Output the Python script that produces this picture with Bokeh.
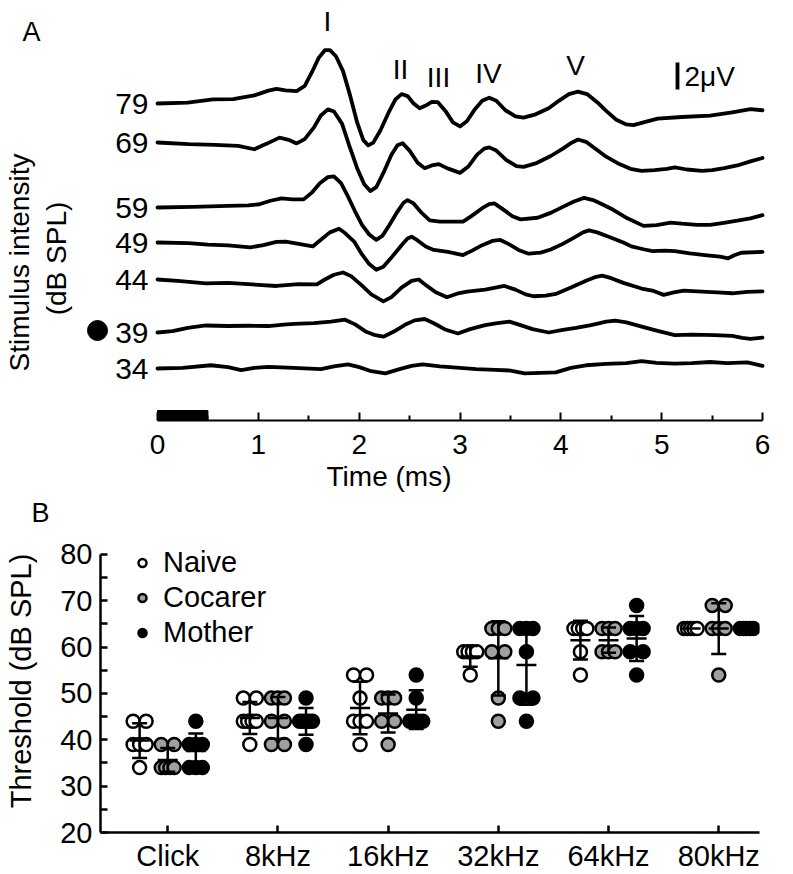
import numpy as np
from bokeh.plotting import figure
from bokeh.models import Range1d, FixedTicker, Legend, LegendItem, Title
from bokeh.embed import file_html
from bokeh.resources import INLINE
from bokeh.core.properties import value

FONT = "Liberation Sans"

# ======================= DATA: panel A (ABR traces) =======================
intensities = [79, 69, 59, 49, 44, 39, 34]          # dB SPL
threshold_intensity = 39
time_ticks = [0, 1, 2, 3, 4, 5, 6]                   # ms
time_minor_ticks = [0.5, 1.5, 2.5, 3.5, 4.5, 5.5]
stimulus_ms = [0.0, 0.5]                              # stimulus duration bar
scale_bar_uv = 2.0
wave_names = ["I", "II", "III", "IV", "V"]

# (time ms, amplitude uV)
trace_79 = [(0.00, 0.00), (0.30, 0.07), (0.55, 0.30), (0.75, 0.33), (0.96, 0.60), (1.10, 0.95),
            (1.18, 1.08), (1.27, 0.98), (1.38, 0.92), (1.46, 1.30), (1.53, 2.30), (1.60, 3.40),
            (1.66, 3.95), (1.71, 3.95), (1.77, 3.50), (1.84, 2.40), (1.91, 0.60), (1.98, -1.40),
            (2.04, -2.70), (2.09, -3.10), (2.14, -2.90), (2.21, -2.00), (2.29, -0.70), (2.36, 0.30),
            (2.42, 0.70), (2.48, 0.55), (2.54, 0.00), (2.60, -0.35), (2.66, -0.15), (2.72, 0.12),
            (2.78, 0.10), (2.86, -0.60), (2.93, -1.40), (3.00, -1.70), (3.07, -1.30), (3.15, -0.40),
            (3.22, 0.20), (3.29, 0.43), (3.36, 0.20), (3.45, -0.50), (3.55, -0.95), (3.63, -1.05),
            (3.75, -0.80), (3.88, -0.35), (3.98, 0.20), (4.08, 0.70), (4.17, 0.88), (4.26, 0.70),
            (4.36, 0.10), (4.45, -0.55), (4.55, -1.20), (4.65, -1.55), (4.72, -1.60), (4.82, -1.40),
            (4.96, -1.12), (5.20, -1.00), (5.48, -0.90), (5.70, -0.65), (5.88, -0.42), (6.00, -0.50)]
trace_69 = [(0.00, 0.00), (0.31, -0.12), (0.57, -0.17), (0.80, -0.25), (0.96, -0.50), (1.08, -0.10),
            (1.21, 0.36), (1.30, 0.20), (1.38, -0.07), (1.46, 0.25), (1.55, 1.10), (1.62, 2.00),
            (1.69, 2.45), (1.75, 2.30), (1.83, 1.40), (1.90, -0.20), (1.98, -1.90), (2.05, -3.10),
            (2.11, -3.60), (2.17, -3.30), (2.25, -2.10), (2.32, -0.90), (2.38, -0.20), (2.43, -0.05),
            (2.50, -0.60), (2.58, -1.50), (2.65, -1.90), (2.72, -1.70), (2.79, -1.60), (2.87, -1.90),
            (3.00, -2.25), (3.08, -1.80), (3.17, -0.90), (3.24, -0.45), (3.29, -0.36), (3.36, -0.60),
            (3.46, -1.30), (3.56, -1.75), (3.63, -1.80), (3.75, -1.55), (3.90, -1.00), (4.02, -0.45),
            (4.10, -0.05), (4.17, 0.22), (4.25, 0.05), (4.35, -0.50), (4.45, -1.05), (4.58, -1.60),
            (4.69, -1.95), (4.80, -2.10), (4.93, -2.05), (5.05, -1.95), (5.13, -1.85), (5.25, -2.00),
            (5.40, -2.10), (5.50, -2.05), (5.62, -1.90), (5.75, -1.70), (5.88, -1.40), (6.00, -1.15)]
trace_59 = [(0.00, 0.00), (0.35, 0.05), (0.70, 0.12), (0.90, 0.15), (1.01, 0.24), (1.12, 0.50),
            (1.23, 0.67), (1.34, 0.60), (1.45, 0.60), (1.53, 1.10), (1.61, 1.80), (1.69, 2.25),
            (1.75, 2.30), (1.82, 1.80), (1.89, 0.80), (1.96, -0.30), (2.03, -1.30), (2.10, -2.00),
            (2.17, -2.40), (2.23, -2.10), (2.30, -1.30), (2.38, -0.30), (2.44, 0.35), (2.48, 0.55),
            (2.54, 0.30), (2.62, -0.40), (2.70, -0.95), (2.80, -1.05), (2.92, -1.05), (3.03, -1.05),
            (3.12, -0.60), (3.22, -0.05), (3.29, 0.25), (3.34, 0.30), (3.42, -0.10), (3.52, -0.65),
            (3.60, -0.88), (3.77, -0.76), (3.90, -0.40), (4.02, 0.05), (4.13, 0.45), (4.23, 0.71),
            (4.32, 0.55), (4.42, 0.20), (4.52, -0.17), (4.66, -0.80), (4.82, -1.36), (4.95, -1.30),
            (5.09, -1.12), (5.20, -1.20), (5.35, -1.28), (5.48, -1.29), (5.60, -1.15), (5.75, -0.98),
            (5.88, -0.80), (6.00, -0.57)]
trace_49 = [(0.00, 0.00), (0.31, -0.05), (0.50, -0.15), (0.70, -0.22), (0.92, -0.36), (1.05, -0.20),
            (1.18, 0.05), (1.27, 0.07), (1.40, -0.10), (1.54, -0.29), (1.62, 0.20), (1.71, 0.75),
            (1.80, 1.02), (1.86, 0.70), (1.95, 0.07), (2.03, -0.90), (2.10, -1.60), (2.17, -2.02),
            (2.24, -1.80), (2.32, -1.12), (2.42, -0.20), (2.48, 0.30), (2.52, 0.43), (2.58, 0.15),
            (2.66, -0.30), (2.74, -0.55), (2.88, -0.70), (3.03, -0.93), (3.12, -0.60), (3.22, -0.20),
            (3.32, 0.12), (3.40, 0.19), (3.48, -0.10), (3.58, -0.55), (3.68, -0.83), (3.80, -0.75),
            (3.90, -0.52), (4.02, -0.10), (4.14, 0.40), (4.22, 0.75), (4.28, 0.90), (4.36, 0.75),
            (4.50, 0.35), (4.62, 0.00), (4.70, -0.29), (4.82, -0.50), (4.91, -0.64), (5.03, -0.60),
            (5.13, -0.64), (5.28, -0.80), (5.45, -0.95), (5.58, -1.05), (5.66, -1.17), (5.72, -0.95),
            (5.79, -0.76), (6.00, -0.69)]
trace_44 = [(0.00, 0.00), (0.20, -0.10), (0.48, -0.29), (0.70, -0.25), (0.90, -0.35), (1.18, -0.48),
            (1.40, -0.35), (1.58, -0.36), (1.66, 0.00), (1.75, 0.35), (1.84, 0.52), (1.92, 0.25),
            (2.02, -0.40), (2.12, -1.10), (2.24, -1.62), (2.32, -1.30), (2.42, -0.60), (2.52, -0.10),
            (2.59, 0.00), (2.66, -0.40), (2.76, -0.95), (2.87, -1.31), (2.97, -1.05), (3.07, -0.90),
            (3.25, -0.75), (3.44, -0.48), (3.55, -0.75), (3.65, -1.10), (3.73, -1.24), (3.85, -1.20),
            (3.95, -1.07), (4.10, -0.60), (4.25, -0.10), (4.35, 0.20), (4.41, 0.29), (4.50, 0.10),
            (4.62, -0.25), (4.80, -0.67), (4.92, -0.85), (5.02, -1.14), (5.12, -0.95), (5.22, -0.83),
            (5.40, -0.90), (5.55, -0.95), (5.70, -1.02), (5.85, -0.92), (6.00, -0.88)]
trace_39 = [(0.00, 0.00), (0.15, 0.10), (0.30, 0.35), (0.48, 0.52), (0.70, 0.48), (0.90, 0.50),
            (1.10, 0.48), (1.25, 0.58), (1.36, 0.64), (1.55, 0.70), (1.72, 0.80), (1.86, 0.95),
            (1.96, 0.60), (2.07, 0.05), (2.16, -0.20), (2.24, -0.31), (2.34, 0.05), (2.45, 0.55),
            (2.55, 0.90), (2.65, 1.00), (2.75, 0.65), (2.86, 0.20), (2.98, -0.07), (3.10, 0.25),
            (3.25, 0.55), (3.37, 0.70), (3.49, 0.81), (3.60, 0.55), (3.72, 0.25), (3.88, 0.00),
            (4.02, 0.20), (4.15, 0.35), (4.30, 0.55), (4.45, 0.80), (4.54, 0.88), (4.65, 0.75),
            (4.82, 0.40), (4.97, 0.10), (5.13, -0.19), (5.30, -0.15), (5.53, -0.19), (5.70, -0.25),
            (5.80, -0.40), (5.88, -0.48), (6.00, -0.38)]
trace_34 = [(0.00, 0.00), (0.25, 0.05), (0.53, 0.24), (0.70, 0.10), (0.83, -0.12), (0.96, 0.05),
            (1.10, 0.12), (1.35, 0.05), (1.62, -0.05), (1.75, 0.15), (1.89, 0.31), (2.00, 0.10),
            (2.12, -0.20), (2.26, -0.36), (2.40, -0.05), (2.52, 0.20), (2.63, 0.31), (2.80, 0.15),
            (3.00, 0.05), (3.16, -0.05), (3.35, -0.10), (3.50, -0.15), (3.64, -0.36), (3.80, -0.32),
            (3.95, -0.29), (4.10, 0.05), (4.25, 0.24), (4.45, 0.35), (4.65, 0.40), (4.80, 0.55),
            (4.95, 0.42), (5.13, 0.36), (5.30, 0.40), (5.48, 0.48), (5.65, 0.40), (5.85, 0.45),
            (6.00, 0.19)]
traces = [trace_79, trace_69, trace_59, trace_49, trace_44, trace_39, trace_34]

# ======================= DATA: panel B (thresholds) =======================
categories = ["Click", "8kHz", "16kHz", "32kHz", "64kHz", "80kHz"]
group_names = ["Naive", "Cocarer", "Mother"]
naive = [[44, 44, 39, 39, 39, 34],
         [49, 49, 44, 44, 44, 44, 39],
         [54, 54, 49, 44, 44, 44, 39],
         [59, 59, 59, 59, 54],
         [64, 64, 64, 64, 59, 54],
         [64, 64, 64, 64, 64]]
cocarer = [[39, 39, 34, 34, 34, 34],
           [49, 49, 49, 44, 44, 39, 39],
           [49, 49, 49, 44, 44, 39],
           [64, 64, 64, 59, 59, 49, 44],
           [64, 64, 64, 59, 59, 59],
           [69, 69, 64, 64, 64, 54]]
mother = [[44, 39, 39, 39, 34, 34, 34],
          [49, 44, 44, 44, 44, 44, 39],
          [54, 49, 44, 44, 44, 44],
          [64, 64, 64, 59, 49, 49, 44],
          [69, 64, 64, 64, 59, 59, 54],
          [64, 64, 64, 64, 64]]
y_ticks_B = [20, 30, 40, 50, 60, 70, 80]
y_minor_B = [25, 35, 45, 55, 65, 75]

# ======================= LAYOUT / STYLE =======================
W = 777
A_H = 497
B_H = 377

# panel A mapping (page pixels -> data); page origin = figure origin
T0_PX, PX_PER_MS = 157.0, 605.0 / 6.0
BASE_PX, PX_PER_UV = 368.0, 13.5
def tA(px): return (px - T0_PX) / PX_PER_MS
def vA(py): return (BASE_PX - py) / PX_PER_UV
trace_baseline_px = [103, 142, 207, 242, 279, 332, 368]
offsets = [vA(p) for p in trace_baseline_px]

A_FRAME_BOTTOM = 420
pA = figure(width=W, height=A_H, output_backend="svg", toolbar_location=None,
            x_range=Range1d(tA(0), tA(W)),
            y_range=Range1d(vA(A_FRAME_BOTTOM), vA(0)),
            y_axis_type=None,
            min_border_left=0, min_border_right=0, min_border_top=0,
            min_border_bottom=A_H - A_FRAME_BOTTOM)
pA.outline_line_color = None
pA.grid.visible = False
pA.background_fill_color = "white"
pA.border_fill_color = "white"

ax = pA.xaxis[0]
ax.bounds = (time_ticks[0], time_ticks[-1])
ax.ticker = FixedTicker(ticks=time_ticks, minor_ticks=time_minor_ticks)
ax.axis_line_width = 2
ax.axis_line_color = "black"
ax.major_tick_in = 8
ax.major_tick_out = 0
ax.minor_tick_in = 5
ax.minor_tick_out = 0
ax.major_tick_line_width = 2
ax.minor_tick_line_width = 2
ax.major_label_text_font = FONT
ax.major_label_text_font_size = "28px"
ax.major_label_text_color = "black"
ax.major_label_standoff = 14

for tr, off in zip(traces, offsets):
    t = [p[0] for p in tr]
    v = [p[1] + off for p in tr]
    pA.line(t, v, line_width=3.8, line_color="black", line_join="round", line_cap="round")

# stimulus bar
bar_h = 10 / PX_PER_UV
pA.quad(left=[stimulus_ms[0]], right=[stimulus_ms[1]],
        bottom=[vA(A_FRAME_BOTTOM)], top=[vA(A_FRAME_BOTTOM) + bar_h],
        fill_color="black", line_color="black")

# intensity labels
pA.text(x=[tA(148)] * len(intensities), y=offsets, text=[str(i) for i in intensities],
        text_font=value(FONT), text_font_size=value("30px"), text_align="right",
        text_baseline="middle", text_color="black")
# threshold dot
thr_idx = intensities.index(threshold_intensity)
pA.scatter(x=[tA(97)], y=[offsets[thr_idx] + 2 / PX_PER_UV], size=20,
           fill_color="black", line_color="black")

# wave labels
wave_px = [(327, 21), (400, 69), (438, 77), (488, 73), (575, 65)]
pA.text(x=[tA(p[0]) for p in wave_px], y=[vA(p[1]) for p in wave_px], text=wave_names,
        text_font=value(FONT), text_font_size=value("28px"), text_align="center",
        text_baseline="middle", text_color="black")

# scale bar
sb_x = tA(677)
sb_top = vA(62)
pA.segment(x0=[sb_x], x1=[sb_x], y0=[sb_top], y1=[sb_top - scale_bar_uv],
           line_width=3.8, line_color="black")
pA.text(x=[tA(684)], y=[sb_top - scale_bar_uv / 2], text=["%d\u03bcV" % scale_bar_uv],
        text_font=value(FONT), text_font_size=value("28px"), text_align="left",
        text_baseline="middle", text_color="black")

# y title (two lines)
pA.text(x=[tA(19), tA(56)], y=[vA(262), vA(258)],
        text=["Stimulus intensity", "(dB SPL)"], angle=np.pi / 2,
        text_font=value(FONT), text_font_size=value("28px"), text_align="center",
        text_baseline="middle", text_color="black")
# panel letter
pA.text(x=[tA(31)], y=[vA(31)], text=["A"], text_font=value(FONT),
        text_font_size=value("27px"), text_align="center", text_baseline="middle",
        text_color="black")
# x title, centred under the 0-6 ms axis
x_title = Title(text="Time (ms)", align="center", offset=(T0_PX + 3 * PX_PER_MS) - W / 2,
                text_font=FONT, text_font_size="28px", text_font_style="normal",
                text_color="black", standoff=4)
pA.add_layout(x_title, "below")

# ======================= panel B =======================
B_TOP_PAGE = A_H                     # 497
B_Y80_PAGE = 553
B_FRAME_BOTTOM = 832
B_LEFT_PAGE, B_RIGHT_PAGE = 100, 759
x0B, x1B = -0.61, 5.37
px_per_cat = (B_RIGHT_PAGE - B_LEFT_PAGE) / (x1B - x0B)
px_per_db = (B_FRAME_BOTTOM - B_Y80_PAGE) / (y_ticks_B[-1] - y_ticks_B[0])
B_FRAME_TOP = 528
y_top_B = y_ticks_B[-1] + (B_Y80_PAGE - B_FRAME_TOP) / px_per_db

pB = figure(width=W, height=B_H, output_backend="svg", toolbar_location=None,
            x_range=Range1d(x0B, x1B), y_range=Range1d(y_ticks_B[0], y_top_B),
            min_border_left=B_LEFT_PAGE, min_border_right=W - B_RIGHT_PAGE,
            min_border_top=B_FRAME_TOP - B_TOP_PAGE,
            min_border_bottom=B_TOP_PAGE + B_H - B_FRAME_BOTTOM)
pB.outline_line_color = None
pB.grid.visible = False
pB.background_fill_color = "white"
pB.border_fill_color = "white"

bx = pB.xaxis[0]
bx.ticker = FixedTicker(ticks=list(range(len(categories))), minor_ticks=[])
bx.major_label_overrides = {i: c for i, c in enumerate(categories)}
by = pB.yaxis[0]
by.bounds = (y_ticks_B[0], y_ticks_B[-1])
by.ticker = FixedTicker(ticks=y_ticks_B, minor_ticks=y_minor_B)
for a in (bx, by):
    a.axis_line_width = 2.5
    a.axis_line_color = "black"
    a.major_tick_in = 7
    a.major_tick_out = 0
    a.minor_tick_in = 7
    a.minor_tick_out = 0
    a.major_tick_line_width = 2.5
    a.minor_tick_line_width = 2.5
    a.major_label_text_font = FONT
    a.major_label_text_font_size = "29px"
    a.major_label_text_color = "black"
bx.major_label_standoff = 7
by.major_label_standoff = 8
by.axis_label = "Threshold (dB SPL)"
by.axis_label_text_font = FONT
by.axis_label_text_font_size = "29px"
by.axis_label_text_font_style = "normal"
by.axis_label_text_color = "black"
by.axis_label_standoff = 20

group_data = [naive, cocarer, mother]
group_fill = ["white", "#a0a0a0", "black"]
group_shift = [-0.255, 0.0, 0.255]
row_span = 13.0 / px_per_cat        # centre-to-centre spread of equal values
cap_half = 7.5 / px_per_cat
mean_half = 10.0 / px_per_cat

renderers = []
err_x, err_y0, err_y1 = [], [], []
hx0, hx1, hy = [], [], []
for gdata, fill, shift in zip(group_data, group_fill, group_shift):
    xs, ys = [], []
    for ci, vals in enumerate(gdata):
        vals = np.array(vals, dtype=float)
        for u in np.unique(vals):
            k = int(np.sum(vals == u))
            offs = [0.0] if k == 1 else list(np.linspace(-row_span / 2, row_span / 2, k))
            for o in offs:
                xs.append(ci + shift + o)
                ys.append(u)
        m = vals.mean()
        sd = vals.std(ddof=1)
        xc = ci + shift
        if sd > 0:
            err_x.append(xc); err_y0.append(m - sd); err_y1.append(m + sd)
            for yy in (m - sd, m + sd):
                hx0.append(xc - cap_half); hx1.append(xc + cap_half); hy.append(yy)
        hx0.append(xc - mean_half); hx1.append(xc + mean_half); hy.append(m)
    r = pB.scatter(xs, ys, size=13, fill_color=fill, line_color="black", line_width=2.5)
    renderers.append(r)

pB.segment(x0=err_x, x1=err_x, y0=err_y0, y1=err_y1, line_width=2.5, line_color="black")
pB.segment(x0=hx0, x1=hx1, y0=hy, y1=hy, line_width=2.5, line_color="black")

row_h = 35
legend_bottom_page = 632 + row_h / 2
legend = Legend(items=[LegendItem(label=n, renderers=[r]) for n, r in zip(group_names, renderers)],
                location=(142 - 10 - B_LEFT_PAGE, B_FRAME_BOTTOM - legend_bottom_page),
                orientation="vertical",
                glyph_width=20, glyph_height=row_h, label_height=row_h, spacing=0,
                padding=0, margin=0, label_standoff=11,
                label_text_font=FONT, label_text_font_size="29px", label_text_color="black",
                border_line_color=None, background_fill_alpha=0)
pB.add_layout(legend)

panel_b = Title(text="B", align="left", offset=31 - B_LEFT_PAGE, text_font=FONT,
                text_font_size="27px", text_font_style="normal", text_color="black",
                vertical_align="top", standoff=0)
pB.add_layout(panel_b, "above")

open("out.html", "w").write(file_html([pA, pB], INLINE))
